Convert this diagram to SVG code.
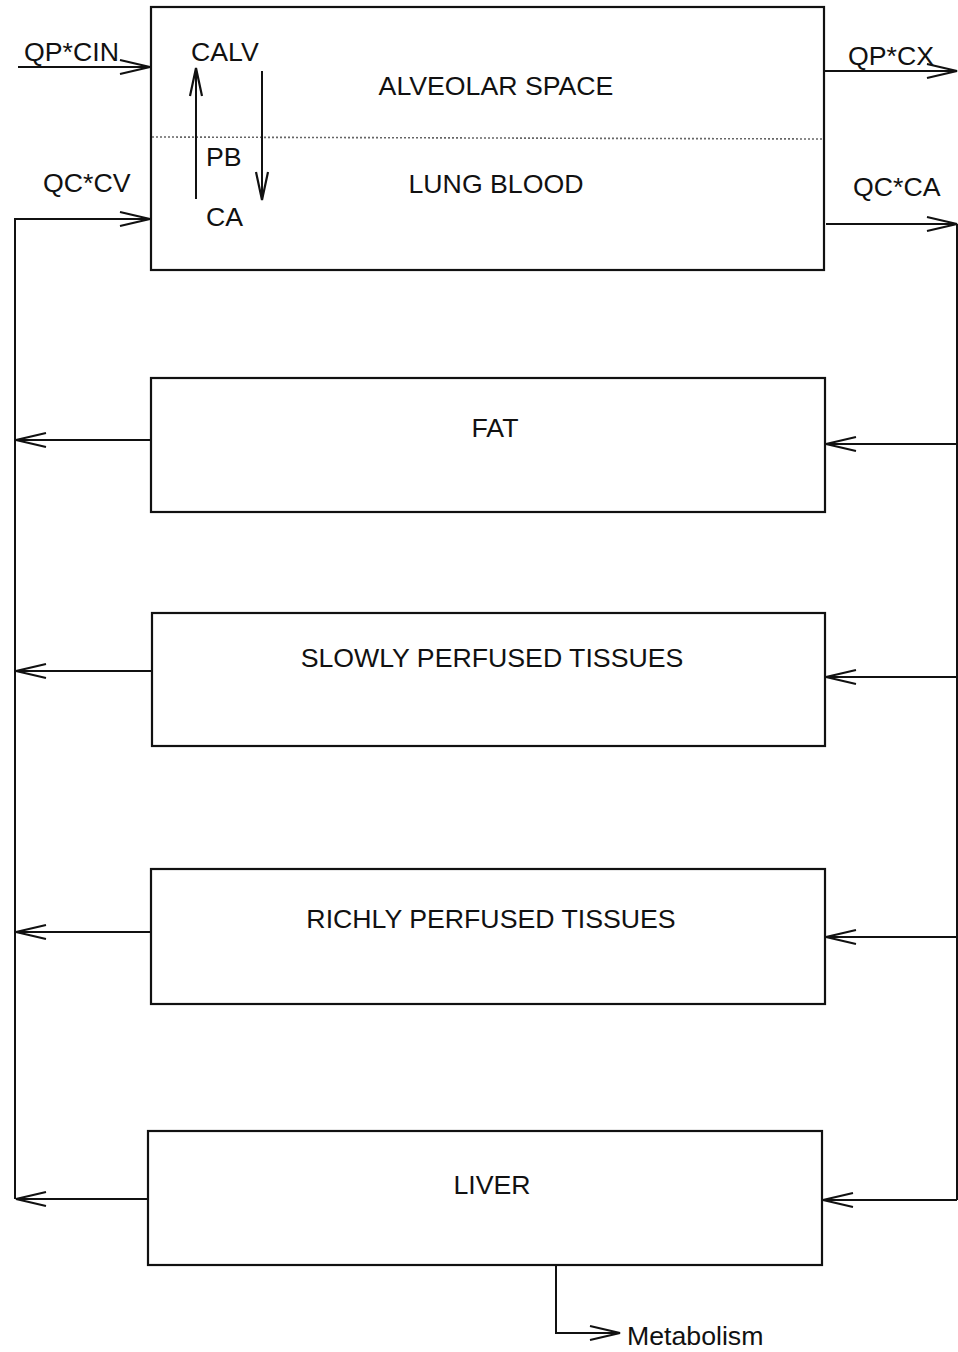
<svg xmlns="http://www.w3.org/2000/svg" width="958" height="1352" viewBox="0 0 958 1352">
<style>
.box{fill:#fff;stroke:#111;stroke-width:2.2}
.t{font-family:"Liberation Sans",Arial,sans-serif;font-size:26.7px;fill:#111}
.m{text-anchor:middle}
.c{fill:none;stroke:#111;stroke-width:2}
.dot{fill:none;stroke:#666;stroke-width:1.6;stroke-dasharray:2 2}
</style>
<defs>
<marker id="arr" viewBox="-32 -10 34 20" refX="0" refY="0" markerWidth="34" markerHeight="20" markerUnits="userSpaceOnUse" orient="auto">
<path d="M-30,-7 L0,0 L-30,7" fill="none" stroke="#111" stroke-width="2.2"/>
</marker>
<marker id="arrs" viewBox="-30 -10 32 20" refX="0" refY="0" markerWidth="32" markerHeight="20" markerUnits="userSpaceOnUse" orient="auto">
<path d="M-28,-6 L0,0 L-28,6" fill="none" stroke="#111" stroke-width="2.2"/>
</marker>
</defs>
<rect width="958" height="1352" fill="#fff"/>
<g id="lung">
<rect class="box" x="151" y="7" width="673" height="263"/>
<line class="dot" x1="152" y1="137" x2="823" y2="139"/>
<text class="t m" x="496" y="95">ALVEOLAR SPACE</text>
<text class="t m" x="496" y="193">LUNG BLOOD</text>
<text class="t" x="191" y="61">CALV</text>
<text class="t" x="206" y="166">PB</text>
<text class="t" x="206" y="226">CA</text>
</g>
<g id="fat">
<rect class="box" x="151" y="378" width="674" height="134"/>
<text class="t m" x="495" y="437">FAT</text>
</g>
<g id="slowly">
<rect class="box" x="152" y="613" width="673" height="133"/>
<text class="t m" x="492" y="667">SLOWLY PERFUSED TISSUES</text>
</g>
<g id="richly">
<rect class="box" x="151" y="869" width="674" height="135"/>
<text class="t m" x="491" y="928">RICHLY PERFUSED TISSUES</text>
</g>
<g id="liver">
<rect class="box" x="148" y="1131" width="674" height="134"/>
<text class="t m" x="492" y="1194">LIVER</text>
</g>
<g id="connectors">
<path class="c" d="M18,67 H150" marker-end="url(#arr)"/>
<text class="t" x="24" y="61">QP*CIN</text>
<path class="c" d="M824,71 H957" marker-end="url(#arr)"/>
<text class="t" x="848" y="65">QP*CX</text>
<path class="c" d="M826,224 H957" marker-end="url(#arr)"/>
<text class="t" x="853" y="196">QC*CA</text>
<path class="c" d="M15,1199 V219 H150" marker-end="url(#arr)"/>
<text class="t" x="43" y="192">QC*CV</text>
<path class="c" d="M196,199 V68" marker-end="url(#arrs)"/>
<path class="c" d="M262,71 V200" marker-end="url(#arrs)"/>
<path class="c" d="M957,224 V1200"/>
<path class="c" d="M151,440 H16" marker-end="url(#arr)"/>
<path class="c" d="M152,671 H16" marker-end="url(#arr)"/>
<path class="c" d="M151,932 H16" marker-end="url(#arr)"/>
<path class="c" d="M148,1199 H16" marker-end="url(#arr)"/>
<path class="c" d="M957,444 H826" marker-end="url(#arr)"/>
<path class="c" d="M957,677 H826" marker-end="url(#arr)"/>
<path class="c" d="M957,937 H826" marker-end="url(#arr)"/>
<path class="c" d="M957,1200 H823" marker-end="url(#arr)"/>
<path class="c" d="M556,1265 V1333 H620" marker-end="url(#arr)"/>
<text class="t" x="627" y="1345">Metabolism</text>
</g>
</svg>
